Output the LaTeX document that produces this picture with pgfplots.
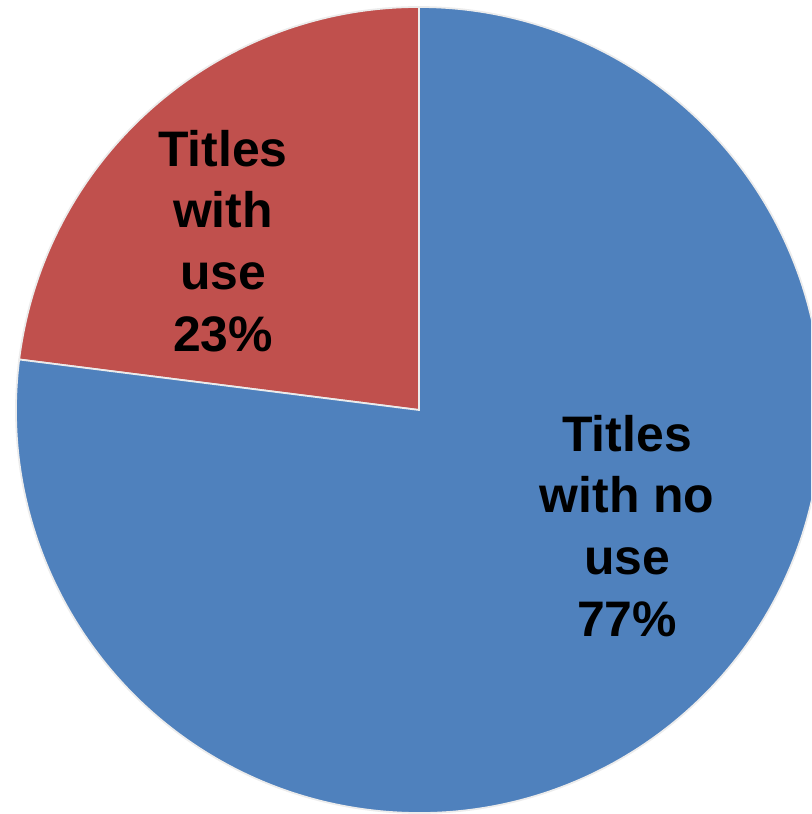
\documentclass[border=0pt]{standalone}
\usepackage{pgfplots}
\pgfplotsset{compat=1.18}
\usepackage{fontspec}
\setmainfont{Liberation Sans}
\definecolor{pieblue}{HTML}{4F81BD}
\definecolor{piered}{HTML}{C0504D}
\begin{document}
\begin{tikzpicture}
\def\vuse{23}
\def\vnouse{77}
\pgfmathsetmacro{\aone}{90+\vuse*3.6}
\pgfmathsetmacro{\atwo}{\aone+\vnouse*3.6}
\begin{axis}[width=8.11cm,height=8.14cm,scale only axis,hide axis,
  xmin=-419,xmax=392,ymin=-404,ymax=410,clip=true]
\addplot[draw=none] coordinates {(0,0)};
\fill[piered,draw=white!85!gray,line width=0.5pt] (axis cs:0,0) -- (axis cs:0,403) arc[start angle=90,end angle=\aone,radius=403] -- cycle;
\fill[pieblue,draw=white!85!gray,line width=0.5pt] (axis cs:0,0) -- ({403*cos(\aone)},{403*sin(\aone)}) arc[start angle=\aone,end angle=\atwo,radius=403] -- cycle;
\node[align=center,font=\bfseries\fontsize{14.2}{17.6}\selectfont] at (axis cs:-196,169) {Titles\\with\\use\\23\%};
\node[align=center,font=\bfseries\fontsize{14.2}{17.6}\selectfont] at (axis cs:208,-116) {Titles\\with no\\use\\77\%};
\end{axis}
\pgfresetboundingbox
\path (current axis.south west) rectangle (current axis.north east);
\end{tikzpicture}
\end{document}
